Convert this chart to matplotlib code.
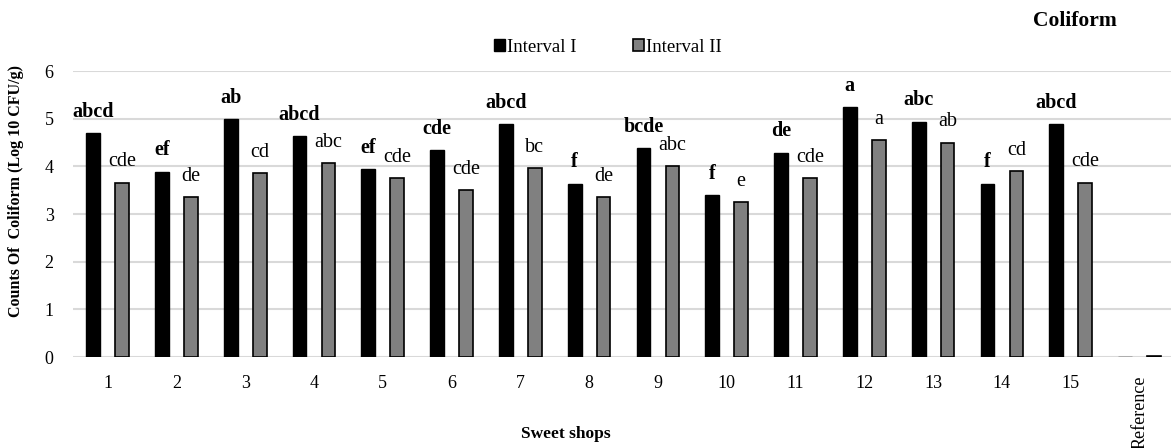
import matplotlib
matplotlib.use("Agg")
import matplotlib.pyplot as plt
import numpy as np

plt.rcParams['font.family'] = ['Liberation Serif', 'DejaVu Serif']

# data
shops = [str(i) for i in range(1, 16)] + ["Reference"]
interval_1 = [4.69, 3.89, 4.99, 4.64, 3.94, 4.34, 4.89, 3.64, 4.39, 3.39,
              4.29, 5.24, 4.94, 3.64, 4.89, 0.01]
interval_2 = [3.66, 3.35, 3.86, 4.06, 3.75, 3.50, 3.96, 3.35, 4.01, 3.26,
              3.75, 4.55, 4.50, 3.90, 3.66, 0.03]
letters_1 = ["abcd", "ef", "ab", "abcd", "ef", "cde", "abcd", "f", "bcde", "f",
             "de", "a", "abc", "f", "abcd", ""]
letters_2 = ["cde", "de", "cd", "abc", "cde", "cde", "bc", "de", "abc", "e",
             "cde", "a", "ab", "cd", "cde", ""]

fig = plt.figure(figsize=(11.71, 4.48), dpi=100)
ax = fig.add_axes([0.0625, 0.203, 0.94, 0.6385])

x = np.arange(1, len(shops) + 1)
w = 0.2
off = 0.21
b1 = ax.bar(x - off, interval_1, w, color='black', edgecolor='black',
            linewidth=1, label='Interval I', zorder=3)
b2 = ax.bar(x + off, interval_2, w, color='#808080', edgecolor='black',
            linewidth=1.2, label='Interval II', zorder=3)

for xi, v, t in zip(x - off, interval_1, letters_1):
    if t:
        ax.annotate(t, (xi, v), xytext=(0, 8), textcoords='offset points',
                    ha='center', va='bottom', fontsize=14.5, fontweight='bold')
for xi, v, t in zip(x + off, interval_2, letters_2):
    if t:
        ax.annotate(t, (xi, v), xytext=(0, 8), textcoords='offset points',
                    ha='center', va='bottom', fontsize=14.5)

ax.set_xlim(0.5, len(shops) + 0.5)
ax.set_ylim(0, 6)
ax.set_yticks(range(0, 7))
ax.set_xticks(x)
ax.set_xticklabels(shops, fontsize=13)
ax.get_xticklabels()[-1].set_rotation(90)
ax.get_xticklabels()[-1].set_va('top')
ax.tick_params(axis='x', length=0, pad=13)
ax.tick_params(axis='y', length=0, pad=14, labelsize=13)
ax.yaxis.grid(True, color='#d9d9d9', linewidth=1.5, zorder=0)
for s in ax.spines.values():
    s.set_visible(False)

fig.text(566 / 1171, 1 - 434 / 448, "Sweet shops", ha='center', va='center',
         fontsize=12.5, fontweight='bold')
fig.text(16 / 1171, 1 - 191 / 448, "Counts Of  Coliform (Log 10 CFU/g)",
         rotation=90, ha='center', va='center', fontsize=11.5, fontweight='bold')
fig.text(1075 / 1171, 1 - 21 / 448, "Coliform", ha='center', va='center',
         fontsize=15.5, fontweight='bold')

fig.legend(handles=[b1, b2], loc='center', bbox_to_anchor=(608 / 1171, 1 - 47 / 448),
           ncol=2, frameon=False, fontsize=13.5, handlelength=0.6, handleheight=0.6,
           handletextpad=0.1, columnspacing=3.0)

fig.savefig("out.png", dpi=100)
